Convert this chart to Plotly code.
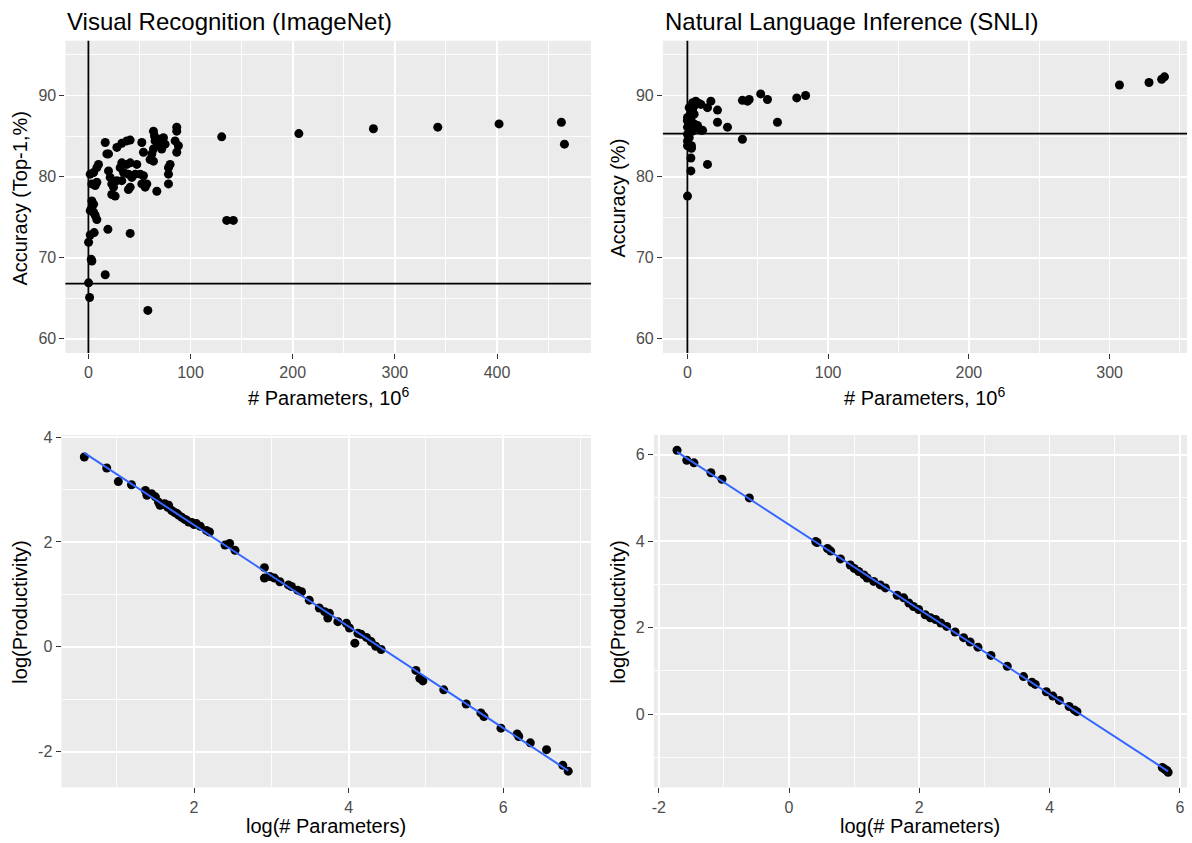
import numpy as np
import plotly.graph_objects as go

# ---------------- data ----------------
imagenet_params = [0.2, 1.2, 58.2, 16.5, 2.8, 3.4, 0.2, 1.8, 5.7, 19.1, 40.9, 135.4, 141.9, 130.5,
                   1.8, 5.1, 8.3, 9.9, 3.4, 6.7, 8.3, 3.4, 5.1, 1.8, 5.1, 6.7, 8.3, 3.4,
                   16.5, 18.1, 19.7, 27.9, 32.7, 37.6, 40.9, 52.3, 53.9, 63.7, 64.7, 65.3, 68.6,
                   70.2, 73.5, 75.1, 71.8, 63.7, 62.1, 60.4, 63.7, 86.5, 86.5, 84.9, 88.1, 86.5,
                   80.0, 78.4, 78.4, 78.4,
                   19.7, 21.3, 22.9, 24.6, 22.9, 26.2, 27.9, 32.7, 37.6, 40.9, 47.4, 34.4, 39.2,
                   42.5, 45.8, 50.7, 53.9, 32.7, 40.9, 39.2, 52.3, 57.2, 55.6, 67.0, 31.1,
                   206, 279, 342, 402, 463, 466]
imagenet_acc = [66.9, 65.1, 63.5, 67.9, 69.8, 69.6, 71.9, 72.8, 73.1, 73.5, 73.0, 74.6, 74.6, 84.9,
                80.3, 80.5, 81.1, 81.5, 79.1, 78.9, 79.3, 77.0, 76.6, 75.8, 75.6, 75.2, 74.7, 76.2,
                84.2, 82.8, 82.8, 83.6, 84.1, 84.4, 84.5, 84.2, 83.0, 85.6, 85.0, 84.4, 84.0,
                84.6, 84.8, 84.0, 83.4, 83.4, 82.8, 82.1, 81.9, 86.1, 85.6, 84.4, 83.8, 83.0,
                81.5, 81.1, 80.3, 79.1,
                80.7, 79.9, 79.1, 78.7, 77.8, 77.6, 79.5, 81.7, 81.5, 81.7, 81.5, 80.5, 80.3,
                79.9, 80.3, 80.3, 80.1, 79.5, 78.7, 78.4, 79.1, 79.1, 78.7, 78.2, 81.1,
                85.3, 85.9, 86.1, 86.5, 86.7, 84.0]
imagenet_hline = 66.8

snli_params = [0.1, 2.5, 14.3, 2.5, 2.9, 0.1, 39.1, 9.6, 28.5, 21.4, 64.0, 21.4, 16.7, 14.3,
               39.1, 42.7, 43.9, 52.1, 56.9, 77.7, 84.0, 307, 328, 337, 339,
               3.7, 6.0, 8.4, 1.3, 3.7, 4.8, 0.1, 2.5, 1.3, 4.8, 7.2, 10.8, 0.1, 3.7, 0.1,
               1.3, 0.1, 0.0, 2.2, 4.8, 9.6, 2.9]
snli_acc = [77.6, 80.7, 81.5, 82.3, 83.5, 83.8, 84.6, 85.7, 86.1, 86.7, 86.7, 88.2, 89.3, 88.5,
            89.4, 89.3, 89.5, 90.2, 89.5, 89.7, 90.0, 91.3, 91.6, 92.0, 92.3,
            89.1, 89.3, 89.0, 88.5, 88.1, 87.7, 87.3, 87.1, 86.7, 86.5, 86.3, 85.7, 86.1, 85.6, 85.2,
            84.8, 84.4, 86.9, 87.8, 88.7, 88.9, 83.8]
snli_hline = 85.3

imagenet_log_params = [0.58, 0.87, 1.02, 1.19, 1.37, 1.39, 1.45, 1.50, 1.54, 1.56, 1.60, 1.62, 1.66,
                       1.67, 1.71, 1.75, 1.78, 1.80, 1.84, 1.88, 1.90, 1.93, 1.97, 2.00, 2.03, 2.08,
                       2.16, 2.20, 2.40, 2.46, 2.53, 2.91, 2.91, 2.98, 3.04, 3.11, 3.22, 3.26, 3.34,
                       3.39, 3.49, 3.62, 3.69, 3.73, 3.75, 3.86, 3.97, 4.01, 4.08, 4.12, 4.16, 4.23,
                       4.29, 4.35, 4.42, 4.87, 4.92, 4.96, 5.23, 5.52, 5.71, 5.75, 5.97, 6.18, 6.20,
                       6.35, 6.56, 6.77, 6.84]
imagenet_log_prod = [3.62, 3.41, 3.15, 3.09, 2.98, 2.89, 2.92, 2.86, 2.76, 2.70, 2.72, 2.73, 2.66,
                     2.70, 2.60, 2.56, 2.54, 2.51, 2.47, 2.43, 2.42, 2.38, 2.37, 2.33, 2.35, 2.30,
                     2.22, 2.19, 1.94, 1.97, 1.84, 1.51, 1.31, 1.34, 1.31, 1.24, 1.18, 1.15, 1.08,
                     1.05, 0.89, 0.74, 0.67, 0.55, 0.64, 0.48, 0.45, 0.36, 0.07, 0.26, 0.24, 0.18,
                     0.10, 0.01, -0.05, -0.45, -0.60, -0.65, -0.82, -1.09, -1.26, -1.33, -1.55, -1.66, -1.71,
                     -1.83, -1.96, -2.26, -2.37]

snli_log_params = [-1.72, -1.57, -1.46, -1.20, -1.03, -0.61, 0.41, 0.43, 0.59, 0.64, 0.79, 0.94,
                   1.00, 1.07, 1.15, 1.20, 1.30, 1.40, 1.48, 1.66, 1.76, 1.84, 1.91, 1.99, 2.09,
                   2.17, 2.25, 2.33, 2.42, 2.55, 2.68, 2.78, 2.90, 3.10, 3.35, 3.60, 3.73, 3.78,
                   3.95, 4.05, 4.15, 4.30, 4.38, 4.42, 5.73, 5.77, 5.80, 5.82]
snli_log_prod = [6.10, 5.87, 5.81, 5.58, 5.43, 5.00, 3.99, 3.97, 3.83, 3.77, 3.59, 3.45,
                 3.37, 3.30, 3.22, 3.15, 3.07, 2.99, 2.92, 2.75, 2.69, 2.57, 2.49, 2.42, 2.30,
                 2.23, 2.19, 2.11, 2.03, 1.90, 1.77, 1.67, 1.55, 1.36, 1.11, 0.87, 0.74, 0.69,
                 0.52, 0.42, 0.32, 0.18, 0.10, 0.06, -1.23, -1.27, -1.30, -1.34]

# tick labels
top_left_xticks = [0, 100, 200, 300, 400]
top_right_xticks = [0, 100, 200, 300]
acc_yticks = [60, 70, 80, 90]
bl_xticks = [2, 4, 6]
bl_yticks = [-2, 0, 2, 4]
br_xticks = [-2, 0, 2, 4, 6]
br_yticks = [0, 2, 4, 6]

# ---------------- styling helpers ----------------
W, H = 1192, 843
FONT = "Liberation Sans, Arial, Helvetica, sans-serif"
PANEL_BG = "#EBEBEB"


def px_x(p):
    return p / W


def px_y(p):
    return 1 - p / H


def axis(domain, rng, ticks, minor_dtick, anchor):
    return dict(
        domain=domain, range=rng, anchor=anchor,
        tickmode="array", tickvals=ticks, ticktext=[str(t) for t in ticks],
        showgrid=True, gridcolor="white", gridwidth=1.8,
        minor=dict(showgrid=True, gridcolor="white", gridwidth=0.9,
                   tickmode="linear", dtick=minor_dtick, tick0=0, ticks=""),
        zeroline=False, showline=False,
        ticks="outside", ticklen=5, tickwidth=1, tickcolor="#333333",
        tickfont=dict(family=FONT, size=16, color="#4D4D4D"),
        fixedrange=True,
    )


fig = go.Figure()

marker = dict(color="black", size=9)

fig.add_trace(go.Scatter(x=imagenet_params, y=imagenet_acc, mode="markers", marker=marker,
                         xaxis="x", yaxis="y", showlegend=False))
fig.add_trace(go.Scatter(x=snli_params, y=snli_acc, mode="markers", marker=marker,
                         xaxis="x2", yaxis="y2", showlegend=False))

# scatter + linear-model fit lines
for xs, ys, xa, ya in [(imagenet_log_params, imagenet_log_prod, "x3", "y3"),
                       (snli_log_params, snli_log_prod, "x4", "y4")]:
    b, a = np.polyfit(xs, ys, 1)
    lx = np.array([min(xs), max(xs)])
    fig.add_trace(go.Scatter(x=xs, y=ys, mode="markers", marker=marker,
                             xaxis=xa, yaxis=ya, showlegend=False))
    fig.add_trace(go.Scatter(x=lx, y=a + b * lx, mode="lines",
                             line=dict(color="#3366FF", width=2),
                             xaxis=xa, yaxis=ya, showlegend=False))

top_dom = [px_y(349.5), px_y(35)]
bot_dom = [px_y(787), px_y(432)]

layout = dict(
    width=W, height=H, autosize=False,
    margin=dict(l=0, r=0, t=0, b=0),
    paper_bgcolor="white", plot_bgcolor=PANEL_BG,
    font=dict(family=FONT, color="black"),
    xaxis=axis([px_x(63.5), px_x(590)], [-22.5, 492], top_left_xticks, 50, "y"),
    yaxis=axis(top_dom, [58.25, 96.75], acc_yticks, 5, "x"),
    xaxis2=axis([px_x(662), px_x(1187)], [-17.4, 355], top_right_xticks, 50, "y2"),
    yaxis2=axis(top_dom, [58.25, 96.75], acc_yticks, 5, "x2"),
    xaxis3=axis([px_x(59.6), px_x(590)], [0.285, 7.135], bl_xticks, 1, "y3"),
    yaxis3=axis(bot_dom, [-2.68, 4.04], bl_yticks, 1, "x3"),
    xaxis4=axis([px_x(653), px_x(1187)], [-2.075, 6.11], br_xticks, 1, "y4"),
    yaxis4=axis(bot_dom, [-1.69, 6.455], br_yticks, 1, "x4"),
)
fig.update_layout(**layout)

# reference lines
line_style = dict(color="black", width=1.8)
shapes = [
    dict(type="line", xref="x", yref="y domain", x0=0, x1=0, y0=0, y1=1, line=line_style),
    dict(type="line", xref="x domain", yref="y", x0=0, x1=1, y0=imagenet_hline, y1=imagenet_hline, line=line_style),
    dict(type="line", xref="x2", yref="y2 domain", x0=0, x1=0, y0=0, y1=1, line=line_style),
    dict(type="line", xref="x2 domain", yref="y2", x0=0, x1=1, y0=snli_hline, y1=snli_hline, line=line_style),
]
fig.update_layout(shapes=shapes)


def ann(text, x, y, size, xanchor="center", yanchor="middle", angle=0):
    return dict(text=text, x=px_x(x), y=px_y(y), xref="paper", yref="paper",
                showarrow=False, xanchor=xanchor, yanchor=yanchor, textangle=angle,
                font=dict(family=FONT, size=size, color="black"))


annotations = [
    ann("Visual Recognition (ImageNet)", 63.5, 16, 24, xanchor="left"),
    ann("Natural Language Inference (SNLI)", 662, 16, 24, xanchor="left"),
    ann("# Parameters, 10<sup>6</sup>", 326.8, 393, 20),
    ann("# Parameters, 10<sup>6</sup>", 924.5, 393, 20),
    ann("log(# Parameters)", 324.8, 826, 20),
    ann("log(# Parameters)", 920, 826, 20),
    ann("Accuracy (Top-1,%)", 18, 193, 20, angle=-90),
    ann("Accuracy (%)", 617, 193, 20, angle=-90),
    ann("log(Productivity)", 18, 610, 20, angle=-90),
    ann("log(Productivity)", 617, 610, 20, angle=-90),
]
fig.update_layout(annotations=annotations)

fig.write_html("out.html",
               config={"displayModeBar": False, "staticPlot": True},
               post_script="document.body.style.margin='0';document.body.style.overflow='hidden';")
